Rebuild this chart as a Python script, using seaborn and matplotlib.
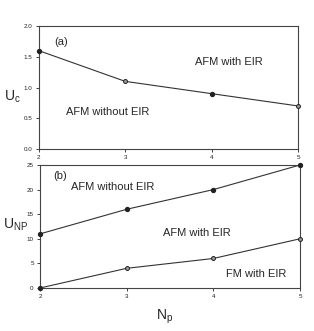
import numpy as np
import pandas as pd
import matplotlib
matplotlib.use('Agg')
import matplotlib.pyplot as plt
import seaborn as sns

sns.set_style('ticks')
plt.rcParams['font.family'] = ['Liberation Sans', 'DejaVu Sans']
plt.rcParams['mathtext.fontset'] = 'custom'
plt.rcParams['mathtext.rm'] = 'Liberation Sans'
plt.rcParams['mathtext.it'] = 'Liberation Sans'

# datos
np_vals = [2, 3, 4, 5]
uc_vals = [1.6, 1.1, 0.9, 0.7]
unp_afm_vals = [11, 16, 20, 25]
unp_fm_vals = [0, 4, 6, 10]
uc_filled = [True, False, True, False]
afm_filled = [True, True, True, True]
fm_filled = [True, False, False, False]

fig = plt.figure(figsize=(3.14, 3.31), dpi=100)
W, H = 314, 331
ax1 = fig.add_axes([38.7 / W, 1 - 149 / H, 259.3 / W, 123 / H])
ax2 = fig.add_axes([40 / W, 1 - 288 / H, 260 / W, 123 / H])


def serie(ax, x, y, filled):
    df = pd.DataFrame({'x': x, 'y': y, 'f': filled})
    sns.lineplot(data=df, x='x', y='y', ax=ax, color='#333333', lw=0.8)
    llenos = df[df['f']]
    vacios = df[~df['f']]
    ax.scatter(llenos['x'], llenos['y'], s=8, color='#222222', zorder=5, clip_on=False)
    ax.scatter(vacios['x'], vacios['y'], s=8, facecolor='#999999', edgecolor='#222222',
               lw=0.7, zorder=5, clip_on=False)


serie(ax1, np_vals, uc_vals, uc_filled)
serie(ax2, np_vals, unp_afm_vals, afm_filled)
serie(ax2, np_vals, unp_fm_vals, fm_filled)

for ax in (ax1, ax2):
    ax.set_xlim(2, 5)
    ax.set_xticks(np_vals)
    ax.tick_params(labelsize=4.5, length=2.5, width=0.6, pad=2, colors='#222222')
    for s in ax.spines.values():
        s.set_linewidth(0.8)
        s.set_color('#444444')
    ax.set_xlabel('')
    ax.set_ylabel('')

ax1.set_ylim(0, 2.0)
ax1.set_yticks([0.0, 0.5, 1.0, 1.5, 2.0])
ax1.set_yticklabels(['0.0', '0.5', '1.0', '1.5', '2.0'])
ax2.set_ylim(0, 25)
ax2.set_yticks([0, 5, 10, 15, 20, 25])

fs = 8
ax1.text(0.06, 0.87, '(a)', transform=ax1.transAxes, fontsize=fs, ha='left', va='center')
ax1.text(0.735, 0.71, 'AFM with EIR', transform=ax1.transAxes, fontsize=fs, ha='center', va='center')
ax1.text(0.265, 0.30, 'AFM without EIR', transform=ax1.transAxes, fontsize=fs, ha='center', va='center')

ax2.text(0.05, 0.91, '(b)', transform=ax2.transAxes, fontsize=fs, ha='left', va='center')
ax2.text(0.28, 0.82, 'AFM without EIR', transform=ax2.transAxes, fontsize=fs, ha='center', va='center')
ax2.text(0.605, 0.45, 'AFM with EIR', transform=ax2.transAxes, fontsize=fs, ha='center', va='center')
ax2.text(0.83, 0.11, 'FM with EIR', transform=ax2.transAxes, fontsize=fs, ha='center', va='center')

fig.text(12 / W, 1 - 97 / H, r'U$_\mathrm{c}$', fontsize=10, ha='center', va='center')
fig.text(16 / W, 1 - 225 / H, r'U$_\mathrm{NP}$', fontsize=10, ha='center', va='center')
fig.text(165 / W, 1 - 317 / H, r'N$_\mathrm{p}$', fontsize=10, ha='center', va='center')

fig.savefig('out.png', dpi=100)
